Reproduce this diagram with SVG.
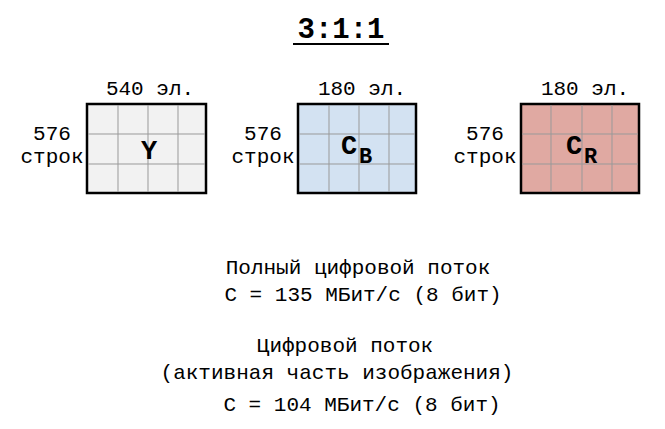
<svg xmlns="http://www.w3.org/2000/svg" width="665" height="429" viewBox="0 0 665 429">
<style>
text{font-family:"Liberation Mono","DejaVu Sans Mono",monospace;fill:#000}
.l{font-size:21px}
.b{stroke:#000;stroke-width:2.5}
.g{stroke:#999;stroke-width:1;fill:none}
.n{font-size:27px;font-weight:bold}
.s{font-size:22px;font-weight:bold}
</style>
<rect width="665" height="429" fill="#fff"/>
<text x="341" y="38" font-size="29" font-weight="bold" text-anchor="middle">3:1:1</text>
<line x1="293" y1="44" x2="389" y2="44" stroke="#000" stroke-width="2"/>
<g id="Y">
<rect class="b" x="87" y="104" width="119" height="89" fill="#f2f2f2"/>
<path class="g" d="M118 105V192M148 105V192M178 105V192M88 134H205M88 164H205"/>
<text class="n" x="149" y="159" text-anchor="middle">Y</text>
<text class="l" x="150" y="95" text-anchor="middle">540 эл.</text>
<text class="l" x="52" y="140" text-anchor="middle">576</text>
<text class="l" x="52" y="163" text-anchor="middle">строк</text>
</g>
<g id="CB">
<rect class="b" x="298" y="104" width="118" height="89" fill="#d3e2f2"/>
<path class="g" d="M329 105V192M359 105V192M389 105V192M299 134H415M299 164H415"/>
<text class="n" x="341" y="154">C</text><text class="s" x="359" y="163">B</text>
<text class="l" x="362" y="95" text-anchor="middle">180 эл.</text>
<text class="l" x="263" y="140" text-anchor="middle">576</text>
<text class="l" x="263" y="163" text-anchor="middle">строк</text>
</g>
<g id="CR">
<rect class="b" x="521" y="104" width="118" height="89" fill="#e0a9a2"/>
<path class="g" d="M551 105V192M582 105V192M612 105V192M522 134H638M522 164H638"/>
<text class="n" x="566" y="154">C</text><text class="s" x="584" y="163">R</text>
<text class="l" x="585" y="95" text-anchor="middle">180 эл.</text>
<text class="l" x="485" y="140" text-anchor="middle">576</text>
<text class="l" x="485" y="163" text-anchor="middle">строк</text>
</g>
<g id="info">
<text class="l" x="358" y="274" text-anchor="middle">Полный цифровой поток</text>
<text class="l" x="363" y="301" text-anchor="middle">C = 135 МБит/с (8 бит)</text>
<text class="l" x="345" y="352" text-anchor="middle">Цифровой поток</text>
<text class="l" x="337" y="379" text-anchor="middle">(активная часть изображения)</text>
<text class="l" x="362" y="411" text-anchor="middle">C = 104 МБит/с (8 бит)</text>
</g>
<g id="connectors"/>
</svg>
